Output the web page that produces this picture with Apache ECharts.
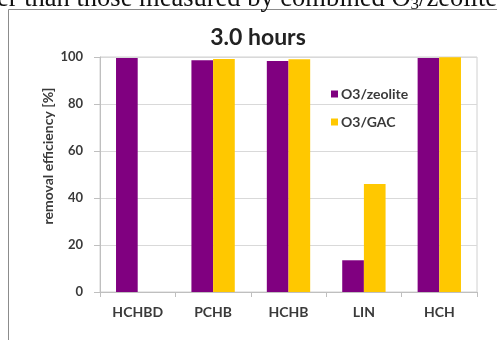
<!DOCTYPE html>
<html>
<head>
<meta charset="utf-8">
<script src="https://cdn.jsdelivr.net/npm/echarts@6/dist/echarts.min.js"></script>
<style>html,body{margin:0;padding:0;background:#fff}#c{width:497px;height:340px}</style>
</head>
<body>
<div id="c"></div>
<script>
const categories = ['HCHBD', 'PCHB', 'HCHB', 'LIN', 'HCH'];
const zeolite = [99.6, 98.6, 98.3, 13.5, 99.6];
const gac = [null, 99.1, 99.0, 46.0, 99.9];
const yTicks = [0, 20, 40, 60, 80, 100];
const seriesNames = ['O3/zeolite', 'O3/GAC'];
const titleText = '3.0 hours';
const yName = 'removal efficiency [%]';

const chart = echarts.init(document.getElementById('c'));
const lbl = '#3a3a3a';
chart.setOption({
  animation: false,
  backgroundColor: '#fff',
  grid: { left: 100, right: 20, top: 57, bottom: 48, show: true, borderColor: '#d0d0d0', borderWidth: 1 },
  legend: {
    orient: 'vertical', left: 326, top: 82,
    itemWidth: 7, itemHeight: 7, itemGap: 14, icon: 'rect',
    textStyle: { fontFamily: 'Lato', fontWeight: 'bold', fontSize: 14, color: lbl, padding: [0,0,0,-2] },
    data: seriesNames
  },
  xAxis: {
    type: 'category', data: categories,
    axisLine: { lineStyle: { color: '#bfbfbf', width: 1 } },
    axisTick: { show: true, length: 5, lineStyle: { color: '#bfbfbf' } },
    axisLabel: { margin: 13, fontFamily: 'Lato', fontWeight: 'bold', fontSize: 14, color: lbl }
  },
  yAxis: {
    type: 'value', min: yTicks[0], max: yTicks[yTicks.length - 1], interval: 20,
    axisLine: { show: true, lineStyle: { color: '#bfbfbf' } },
    axisTick: { show: true, length: 6, lineStyle: { color: '#bfbfbf' } },
    splitLine: { lineStyle: { color: '#d9d9d9' } },
    axisLabel: { margin: 17, fontFamily: 'Lato', fontWeight: 'bold', fontSize: 13, color: lbl }
  },
  series: [
    { name: seriesNames[0], type: 'bar', data: zeolite, itemStyle: { color: '#800080' }, barGap: '0%', barCategoryGap: '42.5%' },
    { name: seriesNames[1], type: 'bar', data: gac, itemStyle: { color: '#FFC800' }, barGap: '0%', barCategoryGap: '42.5%' }
  ],
  graphic: [
    { type: 'polyline', shape: { points: [[8.5, 340], [8.5, 9.5], [497, 9.5]] }, style: { stroke: '#8c8c8c', lineWidth: 1, fill: null } },
    { type: 'text', left: -3, top: -14, style: {
        text: '{a|er than those measured by combined O}{s|3}{a|/zeolite}',
        rich: { a: { fontFamily: 'Liberation Serif', fontSize: 26.5, fill: '#111' },
                s: { fontFamily: 'Liberation Serif', fontSize: 17, fill: '#111', padding: [11, 0, 0, 0] } }
    } },
    { type: 'text', x: 258, y: 38, style: { text: titleText, fontFamily: 'Lato', fontWeight: 'bold', fontSize: 23, fill: '#222', align: 'center', verticalAlign: 'middle' } },
    { type: 'text', x: 48, y: 156, rotation: Math.PI / 2, style: { text: yName, fontFamily: 'Lato', fontWeight: 'bold', fontSize: 14, fill: lbl, align: 'center', verticalAlign: 'middle' } }
  ]
});
</script>
</body>
</html>
